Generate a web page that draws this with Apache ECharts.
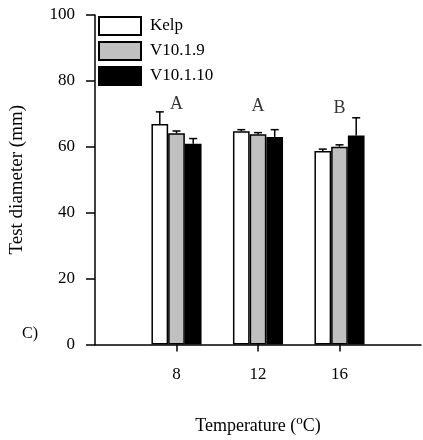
<!DOCTYPE html>
<html>
<head>
<meta charset="utf-8">
<script src="https://cdn.jsdelivr.net/npm/echarts@6/dist/echarts.min.js"></script>
<style>
  html, body { margin: 0; padding: 0; background: #fff; }
  #chart { width: 423px; height: 440px; }
</style>
</head>
<body>
<div id="chart"></div>
<script>
// categories (4 and 20 are empty slots that pad the axis)
const temps = ['4', '8', '12', '16', '20'];
const shownTemps = ['8', '12', '16'];

// means and top of error bars, per series, for 8 / 12 / 16 oC
const kelp = [66.9, 64.7, 58.7];
const kelpErr = [70.6, 65.2, 59.3];
const v109 = [64.1, 63.8, 60.0];
const v109Err = [64.8, 64.3, 60.6];
const v1010 = [60.9, 63.0, 63.4];
const v1010Err = [62.5, 65.2, 68.8];

// significance letters
const letters = ['A', 'A', 'B'];
const letterY = [73.0, 72.4, 71.8];

const font = 'Liberation Serif, Times New Roman, serif';
const barW = 16.7;

const pad = arr => [null].concat(arr, [null]);

const series = [
    { name: 'Kelp', data: kelp, color: '#ffffff' },
    { name: 'V10.1.9', data: v109, color: '#c0c0c0' },
    { name: 'V10.1.10', data: v1010, color: '#000000' }
];
const errs = [kelpErr, v109Err, v1010Err];

const errData = [];
errs.forEach((e, s) => {
    e.forEach((top, i) => {
        errData.push([i + 1, series[s].data[i], top, s - 1]);
    });
});

const chart = echarts.init(document.getElementById('chart'));

const option = {
    animation: false,
    backgroundColor: '#fff',
    textStyle: { fontFamily: font, color: '#000' },
    grid: { left: 95, right: 2, top: 15, bottom: 95 },
    legend: {
        orient: 'vertical',
        left: 93,
        top: 11,
        itemWidth: 42,
        itemHeight: 18,
        itemGap: 5,
        icon: 'rect',
        data: ['Kelp', 'V10.1.9', 'V10.1.10'],
        textStyle: { fontFamily: font, fontSize: 17, color: '#000', padding: [0, 0, 0, 4] }
    },
    xAxis: {
        type: 'category',
        data: temps,
        boundaryGap: false,
        axisLine: { lineStyle: { color: '#000', width: 1.5 } },
        axisTick: {
            length: 7,
            lineStyle: { color: '#000', width: 1.5 },
            interval: (i, v) => shownTemps.indexOf(v) >= 0
        },
        axisLabel: {
            fontFamily: font, fontSize: 17, color: '#000', margin: 22,
            interval: (i, v) => shownTemps.indexOf(v) >= 0
        },
        name: 'Temperature ({sup|o}C)',
        nameLocation: 'middle',
        nameGap: 70,
        nameTextStyle: {
            fontFamily: font, fontSize: 18, color: '#000',
            rich: { sup: { fontFamily: font, fontSize: 13, verticalAlign: 'top', padding: [0, 0, 10, 0] } }
        }
    },
    yAxis: {
        type: 'value',
        min: 0, max: 100, interval: 20,
        axisLine: { show: true, lineStyle: { color: '#000', width: 1.5 } },
        axisTick: { show: true, length: 9, lineStyle: { color: '#000', width: 1.5 } },
        splitLine: { show: false },
        axisLabel: { fontFamily: font, fontSize: 17, color: '#000', margin: 20 },
        name: 'Test diameter (mm)',
        nameLocation: 'middle',
        nameGap: 68,
        nameTextStyle: { fontFamily: font, fontSize: 19, color: '#000' }
    },
    graphic: [{
        type: 'text', left: 22, top: 326,
        style: { text: 'C)', font: '16px ' + font, fill: '#000' }
    }],
    series: series.map(s => ({
        name: s.name,
        type: 'bar',
        data: pad(s.data),
        barWidth: barW,
        barGap: '0%',
        itemStyle: { color: s.color, borderColor: '#000', borderWidth: 1.5 },
        z: 2
    })).concat([{
        type: 'custom',
        data: errData,
        z: 3,
        renderItem: (params, api) => {
            const base = api.coord([api.value(0), api.value(1)]);
            const top = api.coord([api.value(0), api.value(2)]);
            const x = base[0] + api.value(3) * barW;
            const st = { stroke: '#000', lineWidth: 1.5 };
            return {
                type: 'group',
                children: [
                    { type: 'line', shape: { x1: x, y1: base[1], x2: x, y2: top[1] }, style: st },
                    { type: 'line', shape: { x1: x - 4, y1: top[1], x2: x + 4, y2: top[1] }, style: st }
                ]
            };
        }
    }, {
        type: 'scatter',
        symbolSize: 0,
        data: letters.map((l, i) => ({ value: [i + 1, letterY[i]], name: l })),
        label: {
            show: true, position: 'inside', formatter: p => p.name,
            fontFamily: font, fontSize: 18, color: '#000'
        },
        z: 4
    }])
};

chart.setOption(option);
</script>
</body>
</html>
